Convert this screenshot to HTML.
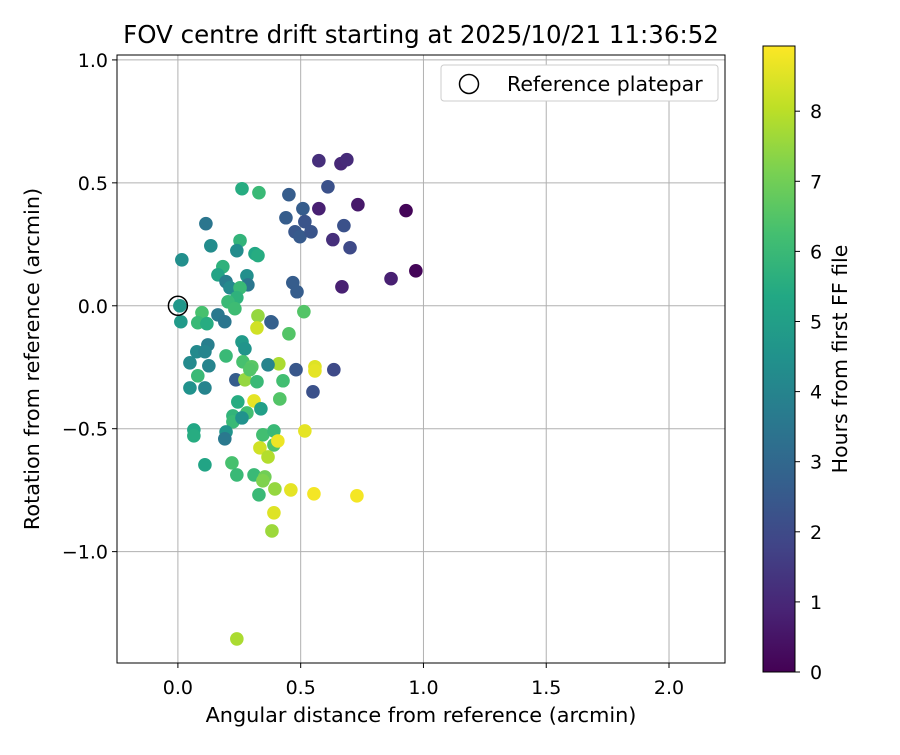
<!DOCTYPE html>
<html><head><meta charset="utf-8"><style>
body{margin:0;background:#fff;}
svg text{font-family:"DejaVu Sans","Liberation Sans",sans-serif;fill:#000;}
</style></head><body>
<svg id="chart" width="900" height="750" xmlns="http://www.w3.org/2000/svg">
<rect width="900" height="750" fill="#fff"/>
<text x="421" y="43" font-size="24.5" text-anchor="middle">FOV centre drift starting at 2025/10/21 11:36:52</text>
<g id="grid"></g>
<g id="points"></g>
<g id="axes"></g>
<text x="421" y="722" font-size="20.8" text-anchor="middle">Angular distance from reference (arcmin)</text>
<text transform="translate(39,359) rotate(-90)" font-size="20.8" text-anchor="middle">Rotation from reference (arcmin)</text>
<g>
<rect x="441" y="65" width="277" height="36" rx="3" fill="#fff" stroke="#ccc"/>
<circle cx="469" cy="84" r="9.5" fill="none" stroke="#000" stroke-width="1.5"/>
<text x="507" y="91" font-size="20.5">Reference platepar</text>
</g>
<defs><linearGradient id="vir" x1="0" y1="1" x2="0" y2="0"></linearGradient></defs>
<rect x="763" y="46" width="32" height="626" fill="url(#vir)" stroke="#000" stroke-width="1"/>
<g id="cbticks"></g>
<text transform="translate(847,359) rotate(-90)" font-size="20.5" text-anchor="middle">Hours from first FF file</text>
</svg>
<script>
const xTicks=[0,0.5,1.0,1.5,2.0];
const xTickLabels=["0.0","0.5","1.0","1.5","2.0"];
const yTicks=[1.0,0.5,0,-0.5,-1.0];
const yTickLabels=["1.0","0.5","0.0","\u22120.5","\u22121.0"];
const cbTicks=[0,1,2,3,4,5,6,7,8];
const xs=[0.574,0.664,0.688,0.611,0.452,0.509,0.574,0.733,0.929,0.440,0.517,0.477,0.497,0.542,0.676,0.631,0.701,0.969,0.868,0.668,0.468,0.485,0.513,0.383,0.452,0.411,0.481,0.558,0.558,0.635,0.428,0.550,0.415,0.261,0.330,0.114,0.134,0.253,0.240,0.314,0.326,0.016,0.183,0.163,0.196,0.281,0.285,0.212,0.253,0.240,0.204,0.232,0.008,0.012,0.098,0.081,0.118,0.163,0.191,0.326,0.322,0.379,0.261,0.273,0.196,0.122,0.077,0.110,0.049,0.126,0.265,0.301,0.367,0.081,0.049,0.110,0.236,0.273,0.322,0.293,0.244,0.310,0.338,0.281,0.224,0.224,0.261,0.065,0.065,0.196,0.191,0.346,0.391,0.391,0.407,0.334,0.367,0.517,0.110,0.220,0.240,0.310,0.354,0.346,0.395,0.460,0.554,0.729,0.330,0.391,0.383,0.240];
const ys=[0.590,0.578,0.594,0.484,0.452,0.395,0.395,0.411,0.387,0.358,0.342,0.301,0.281,0.301,0.326,0.269,0.236,0.142,0.110,0.077,0.094,0.057,-0.024,-0.069,-0.114,-0.236,-0.260,-0.248,-0.265,-0.260,-0.305,-0.350,-0.379,0.476,0.460,0.334,0.244,0.265,0.224,0.212,0.204,0.187,0.159,0.126,0.098,0.122,0.085,0.073,0.073,0.033,0.016,-0.012,0.0,-0.065,-0.028,-0.069,-0.073,-0.037,-0.065,-0.041,-0.090,-0.065,-0.147,-0.175,-0.204,-0.159,-0.187,-0.187,-0.232,-0.244,-0.228,-0.248,-0.240,-0.285,-0.334,-0.334,-0.301,-0.301,-0.309,-0.260,-0.391,-0.387,-0.419,-0.436,-0.448,-0.472,-0.456,-0.505,-0.529,-0.513,-0.541,-0.525,-0.509,-0.566,-0.550,-0.578,-0.615,-0.509,-0.647,-0.639,-0.688,-0.688,-0.696,-0.712,-0.745,-0.749,-0.765,-0.773,-0.769,-0.842,-0.916,-1.355];
const hours=[1.2,1.0,1.1,2.2,2.6,2.6,0.8,0.6,0.1,2.6,2.3,2.4,2.5,2.3,2.2,1.2,2.0,0.1,0.8,0.8,2.6,2.6,6.5,2.7,6.5,7.8,2.4,8.5,8.6,2.0,6.2,2.2,6.5,5.5,6.0,3.5,4.3,5.8,4.3,5.3,5.5,4.4,5.7,5.2,3.8,4.4,3.5,4.2,6.0,5.7,6.0,6.1,4.7,4.8,6.3,6.0,5.5,3.6,3.5,7.5,8.3,2.7,4.8,4.6,6.0,3.8,4.2,4.0,4.2,4.0,6.3,6.6,4.0,6.0,4.5,4.0,2.6,7.5,6.0,6.5,5.5,8.6,5.0,6.2,5.8,6.0,4.5,5.3,5.5,4.6,3.6,6.2,6.0,6.4,8.7,8.3,7.9,8.6,5.2,6.3,6.0,6.0,7.0,7.2,7.5,8.6,8.8,8.8,6.0,8.5,7.6,7.8];
const refPoint=[0,0];

const L=117,R=725,T=55,B=663;
const xMin=-0.248,xMax=2.228,yMin=-1.453,yMax=1.020;
const cMin=0,cMax=8.93,cbTop=46,cbBot=672;
const X=v=>L+(v-xMin)/(xMax-xMin)*(R-L);
const Y=v=>B-(v-yMin)/(yMax-yMin)*(B-T);
const CY=v=>cbBot-(v-cMin)/(cMax-cMin)*(cbBot-cbTop);
const stops=["#440154","#482475","#414487","#355f8d","#2a788e","#21918c","#22a884","#44bf70","#7ad151","#bddf26","#fde725"];
function hex(c){return [1,3,5].map(i=>parseInt(c.substr(i,2),16));}
function vir(t){t=Math.max(0,Math.min(1,t));const p=t*10,i=Math.min(9,Math.floor(p)),f=p-i;const a=hex(stops[i]),b=hex(stops[i+1]);return "rgb("+a.map((v,k)=>Math.round(v+(b[k]-v)*f)).join(",")+")";}
const NS="http://www.w3.org/2000/svg";
function mk(tag,attrs,parent){const e=document.createElementNS(NS,tag);for(const k in attrs)e.setAttribute(k,attrs[k]);parent.appendChild(e);return e;}
const grid=document.getElementById('grid'),axes=document.getElementById('axes'),pts=document.getElementById('points');
xTicks.forEach((v,i)=>{const x=X(v);
 const g=mk('line',{x1:x,x2:x,y1:T,y2:B,stroke:'#b0b0b0','stroke-width':1},grid);
 
 
 mk('line',{x1:x,x2:x,y1:B,y2:B+5,stroke:'#000'},axes);
 const t=mk('text',{x:x,y:B+31,'font-size':19,'text-anchor':'middle'},axes);t.textContent=xTickLabels[i];
 
 });
yTicks.forEach((v,i)=>{const y=Y(v);
 const g=mk('line',{x1:L,x2:R,y1:y,y2:y,stroke:'#b0b0b0','stroke-width':1},grid);
 
 
 mk('line',{x1:L-5,x2:L,y1:y,y2:y,stroke:'#000'},axes);
 const t=mk('text',{x:L-9,y:y+7,'font-size':19,'text-anchor':'end'},axes);t.textContent=yTickLabels[i];
 
 });
mk('rect',{x:L,y:T,width:R-L,height:B-T,fill:'none',stroke:'#000','stroke-width':1},axes);
xs.forEach((v,i)=>{const c=mk('circle',{cx:X(v),cy:Y(ys[i]),r:6.8,fill:vir((hours[i]-cMin)/(cMax-cMin))},pts);
 
 });
const rc=mk('circle',{cx:X(refPoint[0]),cy:Y(refPoint[1]),r:9.5,fill:'none',stroke:'#000','stroke-width':1.5},pts);


const grad=document.getElementById('vir');
stops.forEach((s,i)=>mk('stop',{offset:(i/10*100)+'%','stop-color':s},grad));
const cbt=document.getElementById('cbticks');
cbTicks.forEach(v=>{const y=CY(v);mk('line',{x1:795,x2:800,y1:y,y2:y,stroke:'#000'},cbt);
 const t=mk('text',{x:810,y:y+7,'font-size':19},cbt);t.textContent=v;
 
 });
</script>
</body></html>
